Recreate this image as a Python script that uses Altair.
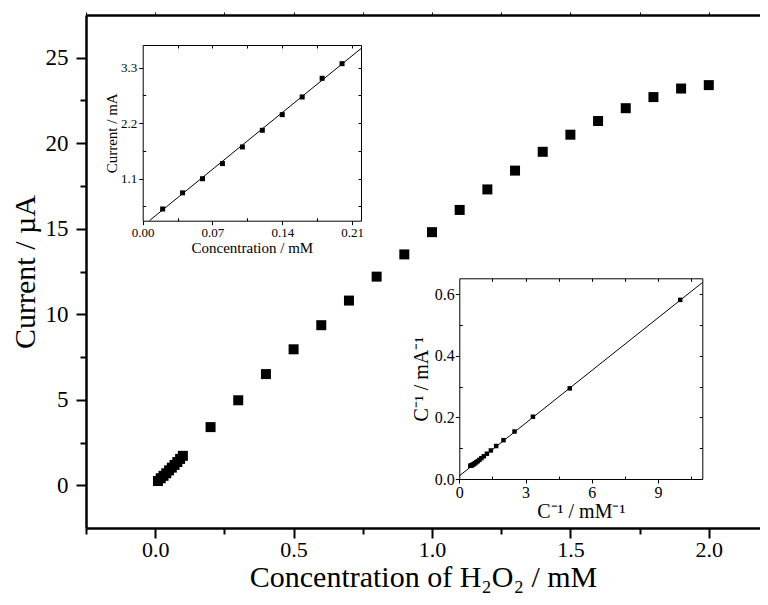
import altair as alt
import pandas as pd

FONT = "Liberation Serif"

# ---------------- data ----------------
conc_low = [0.01, 0.02, 0.03, 0.04, 0.05, 0.06, 0.07, 0.08, 0.09, 0.10]
cur_low = [0.25, 0.41, 0.55, 0.70, 0.87, 1.03, 1.19, 1.36, 1.54, 1.72]
conc_high = [0.2, 0.3, 0.4, 0.5, 0.6, 0.7, 0.8, 0.9, 1.0, 1.1, 1.2, 1.3, 1.4,
             1.5, 1.6, 1.7, 1.8, 1.9, 2.0]
cur_high = [3.4, 4.97, 6.5, 7.95, 9.36, 10.8, 12.2, 13.5, 14.8, 16.1, 17.3, 18.4,
            19.5, 20.5, 21.3, 22.05, 22.7, 23.2, 23.4]

ins1_conc = [0.02, 0.04, 0.06, 0.08, 0.10, 0.12, 0.14, 0.16, 0.18, 0.20]
ins1_cur = [0.50, 0.82, 1.10, 1.40, 1.73, 2.06, 2.37, 2.72, 3.09, 3.38]
ins1_fit_x = [0.0068, 0.219]
ins1_fit_y = [0.27, 3.68]

ins2_inv_c = [10.0, 5.0, 3.333, 2.5, 2.0, 1.667, 1.429, 1.25, 1.111, 1.0, 0.909,
              0.833, 0.769, 0.714, 0.667, 0.625, 0.588, 0.556, 0.526, 0.5]
ins2_inv_i = [0.581, 0.294, 0.202, 0.154, 0.126, 0.107, 0.0926, 0.082, 0.0738,
              0.0676, 0.0621, 0.0578, 0.0543, 0.0513, 0.0489, 0.0469, 0.0455,
              0.0442, 0.0433, 0.0429]
ins2_fit_x = [0.0, 11.0]
ins2_fit_y = [0.01, 0.637]

main_df = pd.DataFrame({"c": conc_low + conc_high, "i": cur_low + cur_high})
ins1_df = pd.DataFrame({"c": ins1_conc, "i": ins1_cur})
fit1_df = pd.DataFrame({"c": ins1_fit_x, "i": ins1_fit_y})
ins2_df = pd.DataFrame({"c": ins2_inv_c, "i": ins2_inv_i})
fit2_df = pd.DataFrame({"c": ins2_fit_x, "i": ins2_fit_y})

# ---------------- layout ----------------
W, H = 674, 513


def scale(domain, rng):
    return alt.Scale(domain=domain, range=rng, nice=False, zero=False)


def axis(orient, values, offset=0.0, tick=0, labels=False, domain=False, fmt=None,
         lsize=24, title=None, tsize=30, lpad=6, tpad=6, lw=2.5, tw=2.0):
    kw = dict(orient=orient, values=values, offset=offset, grid=False,
              domain=domain, ticks=tick > 0, labels=labels,
              labelOverlap=False, labelFlush=False,
              labelFont=FONT, labelFontSize=lsize, labelColor="black",
              labelPadding=lpad,
              titleFont=FONT, titleFontSize=tsize, titleFontWeight="normal",
              titleColor="black", titlePadding=tpad, title=title)
    if domain:
        kw.update(domainColor="black", domainWidth=lw)
    if tick > 0:
        kw.update(tickSize=tick, tickColor="black", tickWidth=tw)
    if fmt:
        kw["format"] = fmt
    return alt.Axis(**kw)


def lay(chart, xs, ys, xa, ya):
    return chart.encode(
        x=alt.X("c:Q", scale=xs, axis=xa),
        y=alt.Y("i:Q", scale=ys, axis=ya),
    )


def ghost(df):
    return alt.Chart(df).mark_point(opacity=0)


layers = []

# ---- main plot ----
mx = scale([-0.25, 2.185], [0, W])
my = scale([-2.5, 27.5], [H, 0])
layers.append(lay(
    alt.Chart(main_df).mark_square(size=100, color="black", opacity=1),
    mx, my,
    axis("bottom", [0, 0.5, 1.0, 1.5, 2.0], tick=10, labels=True, domain=True,
         fmt=".1f", lsize=22, title="Concentration of H₂O₂ / mM", lpad=1,
         tpad=2),
    axis("left", [0, 5, 10, 15, 20, 25], tick=10, labels=True, domain=True,
         fmt="d", lsize=23, title="Current / µA", lpad=8, tpad=5),
))
layers.append(lay(
    ghost(main_df), mx, my,
    axis("bottom", [-0.25, 0.25, 0.75, 1.25, 1.75], tick=6),
    axis("left", [2.5, 7.5, 12.5, 17.5, 22.5], tick=6),
))
layers.append(lay(
    ghost(main_df), mx, my,
    axis("top", [-0.25, 0, 0.25, 0.5, 0.75, 1.0, 1.25, 1.5, 1.75, 2.0], tick=3,
         domain=True, tw=1),
    None,
))

# ---- inset 1 ----
x0, x1, y0, y1 = 56.7, 275.0, 30.0, 205.7
ix = scale([0, 0.219], [x0, x1])
iy = scale([0.268, 3.75], [y1, y0])
ob, ol, ot, orr = -(H - y1), -x0, -y0, -(W - x1)
layers.append(lay(
    alt.Chart(ins1_df).mark_square(size=25, color="black", opacity=1),
    ix, iy,
    axis("bottom", [0, 0.07, 0.14, 0.21], offset=ob, tick=4, labels=True,
         domain=True, fmt=".2f", lsize=13, title="Concentration / mM",
         tsize=15, lpad=2, tpad=1, lw=1, tw=1),
    axis("left", [1.1, 2.2, 3.3], offset=ol, tick=4, labels=True, domain=True,
         fmt=".1f", lsize=13, title="Current /  mA", tsize=15, lpad=2,
         tpad=1, lw=1, tw=1),
))
layers.append(lay(
    ghost(ins1_df), ix, iy,
    axis("bottom", [0.035, 0.105, 0.175], offset=ob - 3, tick=3, tw=1),
    axis("left", [0.55, 1.65, 2.75], offset=ol - 3, tick=3, tw=1),
))
layers.append(lay(
    alt.Chart(fit1_df).mark_line(color="black", strokeWidth=1),
    ix, iy,
    axis("top", [0], offset=ot, domain=True, lw=1),
    axis("right", [1.1], offset=orr, domain=True, lw=1),
))
layers.append(lay(
    ghost(fit1_df), ix, iy,
    axis("top", [0.035, 0.07, 0.105, 0.14, 0.175, 0.21], offset=ot - 3,
         tick=3, tw=1),
    axis("right", [0.55, 1.1, 1.65, 2.2, 2.75, 3.3], offset=orr - 3, tick=3,
         tw=1),
))

# ---- inset 2 ----
x0, x1, y0, y1 = 373.3, 616.3, 263.3, 464.0
jx = scale([0, 11], [x0, x1])
jy = scale([0, 0.651], [y1, y0])
ob, ol, ot, orr = -(H - y1), -x0, -y0, -(W - x1)
layers.append(lay(
    alt.Chart(ins2_df).mark_square(size=20, color="black", opacity=1),
    jx, jy,
    axis("bottom", [0, 3, 6, 9], offset=ob, tick=4, labels=True, domain=True,
         fmt="d", lsize=16, title="C⁻¹ / mM⁻¹", tsize=20, lpad=1, tpad=1,
         lw=1, tw=1),
    axis("left", [0, 0.2, 0.4, 0.6], offset=ol, tick=4, labels=True,
         domain=True, fmt=".1f", lsize=16, title="C⁻¹ / mA⁻¹", tsize=20,
         lpad=1, tpad=3, lw=1, tw=1),
))
layers.append(lay(
    ghost(ins2_df), jx, jy,
    axis("bottom", [1.5, 4.5, 7.5, 10.5], offset=ob - 3, tick=3, tw=1),
    axis("left", [0.1, 0.3, 0.5], offset=ol - 3, tick=3, tw=1),
))
layers.append(lay(
    alt.Chart(fit2_df).mark_line(color="black", strokeWidth=1),
    jx, jy,
    axis("top", [0], offset=ot, domain=True, lw=1),
    axis("right", [0], offset=orr, domain=True, lw=1),
))
layers.append(lay(
    ghost(fit2_df), jx, jy,
    axis("top", [1.5, 3, 4.5, 6, 7.5, 9, 10.5], offset=ot - 3, tick=3, tw=1),
    axis("right", [0.1, 0.2, 0.3, 0.4, 0.5, 0.6], offset=orr - 3, tick=3,
         tw=1),
))

chart = (
    alt.layer(*layers)
    .resolve_scale(x="independent", y="independent")
    .resolve_axis(x="independent", y="independent")
    .properties(
        width=W,
        height=H,
        autosize=alt.AutoSizeParams(type="none"),
        padding={"left": 78, "top": 7, "right": 0, "bottom": 66},
        background="white",
    )
    .configure_view(stroke=None)
)

chart.save("out.html", embed_options={"renderer": "svg", "actions": False})
